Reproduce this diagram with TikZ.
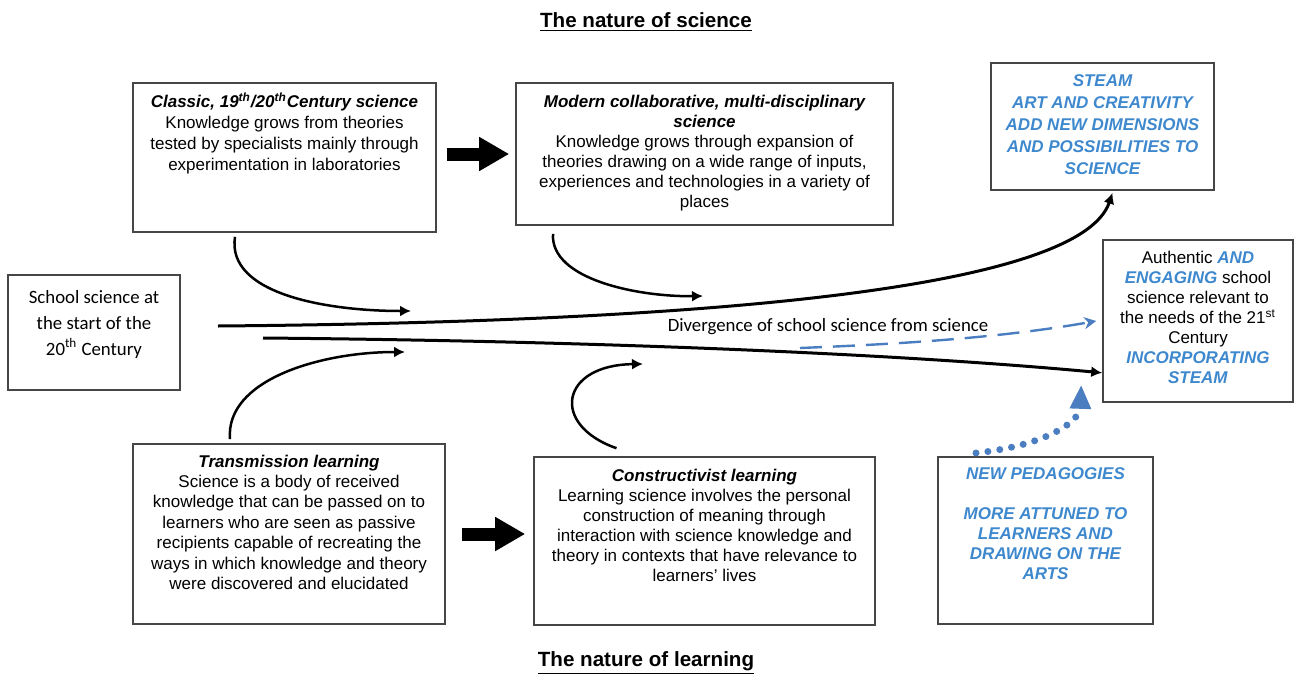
\documentclass[tikz,border=0pt]{standalone}
\usepackage{fontspec}
\setmainfont{Liberation Sans}
\newfontfamily\calibri{Carlito}
\usetikzlibrary{arrows.meta}
\definecolor{steamblue}{RGB}{62,136,206}
\definecolor{arrowblue}{RGB}{74,126,192}
\definecolor{boxgrey}{RGB}{70,70,70}
\newcommand{\boxtext}[4]{\parbox[c][#2][t]{#1}{\centering\rule{0pt}{#3}#4}}
\newcommand{\hl}[1]{\textcolor{steamblue}{\textbf{\textit{#1}}}}
\newcommand{\btitle}[1]{\textbf{\textit{#1}}}

\begin{document}
\begin{tikzpicture}[x=0.5pt, y=-0.5pt,
    box/.style={draw=boxgrey, line width=0.8pt, inner sep=0pt, font=\fontsize{8.5}{10}\selectfont},
    heading/.style={font=\fontsize{10.3}{12}\selectfont\bfseries},
    curve/.style={line width=1.25pt, -{Latex[length=5.5pt,width=5.5pt]}},
    mainline/.style={line width=1.5pt, -{Latex[length=5.5pt,width=5.5pt]}},
    bigarrow/.style={line width=6.5pt, -{Triangle[length=15pt,width=16pt]}},
    bluedash/.style={arrowblue, line width=1.2pt, dash pattern=on 11pt off 5.5pt, -{Stealth[length=6pt,width=6pt]}},
    bluedot/.style={arrowblue, line width=3.5pt, line cap=round, dash pattern=on 0pt off 6pt, -{Triangle[length=12pt,width=10pt]}}]
  \useasboundingbox (0,0) rectangle (1301,675);

  \node[heading] (natsci) at (646,22) {\underline{The nature of science}};
  \node[heading] (natlearn) at (646,663) {\underline{The nature of learning}};

  % the nature of science
  \node[box, font=\fontsize{8.5}{10.6}\selectfont] (classic) at (284.5,157.5) {\boxtext{151.5pt}{74.5pt}{12pt}{\btitle{Classic, 19\textsuperscript{th}/20\textsuperscript{th}Century science}\\ Knowledge grows from theories\\ tested by specialists mainly through\\ experimentation in laboratories}};
  \node[box] (modern) at (704.5,154) {\boxtext{188.5pt}{71pt}{12pt}{\btitle{Modern collaborative, multi-disciplinary\\ science}\\ Knowledge grows through expansion of\\ theories drawing on a wide range of inputs,\\ experiences and technologies in a variety of\\ places}};
  \node[box, font=\fontsize{8.5}{11}\selectfont\bfseries\itshape\color{steamblue}] (steam) at (1102.5,126.5) {\boxtext{111.5pt}{63.5pt}{11.5pt}{STEAM\\ ART AND CREATIVITY\\ ADD NEW DIMENSIONS\\ AND POSSIBILITIES TO\\ SCIENCE}};

  % school science
  \node[box, font=\calibri\fontsize{9.4}{13}\selectfont] (school) at (94,332.5) {\boxtext{86pt}{57.5pt}{14pt}{School science at\\ the start of the\\ 20\textsuperscript{th} Century}};
  \node[box] (authentic) at (1198,321) {\boxtext{95pt}{81pt}{11.5pt}{Authentic \hl{AND}\\ \hl{ENGAGING} school\\ science relevant to\\ the needs of the 21\textsuperscript{st}\\ Century\\ \hl{INCORPORATING}\\ \hl{STEAM}}};

  % the nature of learning
  \node[box, font=\fontsize{8.5}{10.2}\selectfont] (transmission) at (289,534) {\boxtext{156pt}{90pt}{11.5pt}{\btitle{Transmission learning}\\ Science is a body of received\\ knowledge that can be passed on to\\ learners who are seen as passive\\ recipients capable of recreating the\\ ways in which knowledge and theory\\ were discovered and elucidated}};
  \node[box] (constructivist) at (704.5,541) {\boxtext{170.5pt}{84pt}{12pt}{\btitle{Constructivist learning}\\ Learning science involves the personal\\ construction of meaning through\\ interaction with science knowledge and\\ theory in contexts that have relevance to\\ learners' lives}};
  \node[box, font=\fontsize{8.5}{10}\selectfont\bfseries\itshape\color{steamblue}] (pedagogies) at (1045.5,540.5) {\boxtext{107.5pt}{83.5pt}{11pt}{NEW PEDAGOGIES\\[10pt] MORE ATTUNED TO\\ LEARNERS AND\\ DRAWING ON THE\\ ARTS}};

  \draw[bigarrow] ([xshift=5pt]classic.east |- modern.west) -- ([xshift=-3pt]modern.west);
  \draw[bigarrow] ([xshift=8pt]transmission.east) -- ([xshift=-4pt]transmission.east -| constructivist.west);

  % the two diverging paths
  \coordinate (top0) at (218,326);
  \coordinate (bot0) at (263,338);
  \draw[mainline] (top0) .. controls (700,322) and (1080,290) .. ([xshift=5pt,yshift=-1pt]steam.south);
  \draw[mainline] (bot0) .. controls (600,341) and (900,354) .. ([yshift=15pt]authentic.south west);
  \node[font=\calibri\fontsize{9.4}{11}\selectfont] (diverge) at (828,327) {Divergence of school science from science};

  \coordinate (a2) at (411,311);
  \coordinate (b2) at (703,296);
  \coordinate (c2) at (405,352);
  \coordinate (d2) at (643,364);
  \draw[curve] ([xshift=-24.75pt,yshift=-2pt]classic.south) .. controls (226,295) and (330,311) .. (a2);
  \draw[curve] ([xshift=-75.75pt,yshift=-4pt]modern.south) .. controls (550,280) and (640,297) .. (b2);
  \draw[curve] ([xshift=-29.5pt,yshift=2pt]transmission.north) .. controls (225,380) and (320,352) .. (c2);
  \draw[curve] ([xshift=-44pt,yshift=4pt]constructivist.north) .. controls (550,425) and (560,365) .. (d2);

  \coordinate (dash0) at (800,348);
  \coordinate (dot0) at (976,453);
  \draw[bluedash] (dash0) .. controls (900,344) and (1000,338) .. ([xshift=-3pt]authentic.west);
  \draw[bluedot] (dot0) .. controls (1050,445) and (1080,420) .. ([xshift=-10.5pt,yshift=9pt]authentic.south west);
\end{tikzpicture}
\end{document}
